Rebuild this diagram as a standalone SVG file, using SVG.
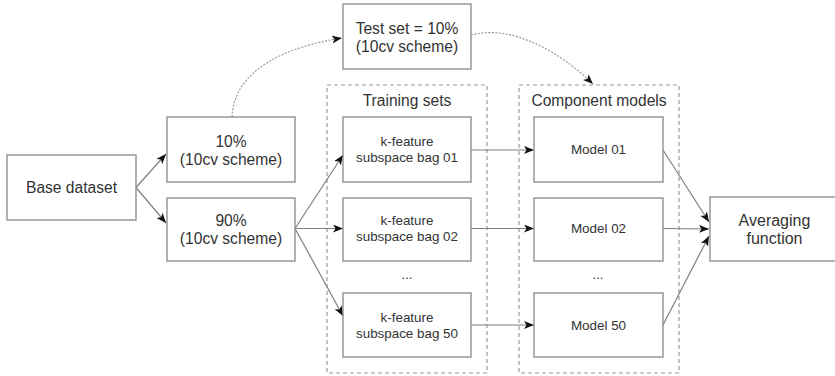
<svg xmlns="http://www.w3.org/2000/svg" width="835" height="376" viewBox="0 0 835 376">
  <defs>
    <marker id="arrow" markerUnits="userSpaceOnUse" markerWidth="11" markerHeight="9" refX="10" refY="4" orient="auto">
      <path d="M0,0 L10,4 L0,8 L2.5,4 z" fill="#111"/>
    </marker>
    <style>
      .box { fill: #fff; stroke: #888; stroke-width: 1.3; }
      .group { fill: none; stroke: #999; stroke-width: 1.2; stroke-dasharray: 4 3; }
      .link { fill: none; stroke: #808080; stroke-width: 1.2; marker-end: url(#arrow); }
      .dotted { fill: none; stroke: #999; stroke-width: 1.2; stroke-dasharray: 2 1.5; marker-end: url(#arrow); }
      text { font-family: "Liberation Sans", Arial, sans-serif; fill: #333; text-anchor: middle; }
      .big { font-size: 15.6px; }
      .small { font-size: 13.4px; }
      .avg { font-size: 16px; }
    </style>
  </defs>

  <rect width="835" height="376" fill="#fff"/>

  <!-- dashed container groups -->
  <g id="training-sets">
    <rect class="group" x="327" y="85" width="160" height="288"/>
    <text class="big" x="407" y="106">Training sets</text>
    <text class="small" x="407" y="279">...</text>
  </g>
  <g id="component-models">
    <rect class="group" x="519" y="85" width="160" height="288"/>
    <text class="big" x="599" y="106">Component models</text>
    <text class="small" x="598" y="279">...</text>
  </g>

  <!-- connectors -->
  <g id="connectors">
    <line class="link" x1="136" y1="187.5" x2="166" y2="154"/>
    <line class="link" x1="136" y1="187.5" x2="166" y2="223"/>
    <line class="link" x1="295" y1="228.5" x2="343" y2="155"/>
    <line class="link" x1="295" y1="228.5" x2="343" y2="228.5"/>
    <line class="link" x1="295" y1="228.5" x2="343" y2="316"/>
    <line class="link" x1="471" y1="150" x2="534" y2="150"/>
    <line class="link" x1="471" y1="228.5" x2="534" y2="228.5"/>
    <line class="link" x1="471" y1="325" x2="534" y2="325"/>
    <line class="link" x1="663" y1="150" x2="709" y2="222"/>
    <line class="link" x1="663" y1="228.5" x2="709" y2="229"/>
    <line class="link" x1="663" y1="325" x2="709" y2="236"/>
    <path class="dotted" d="M232,117 C234,68 290,46 342,38"/>
    <path class="dotted" d="M471,35 C512,24 560,52 593,84"/>
  </g>

  <!-- nodes -->
  <g id="base-dataset">
    <rect class="box" x="7" y="155" width="129" height="65"/>
    <text class="big" x="71.5" y="193">Base dataset</text>
  </g>
  <g id="split-10">
    <rect class="box" x="167" y="117" width="128" height="65"/>
    <text class="big" x="231" y="147"><tspan>10%</tspan><tspan x="231" dy="18">(10cv scheme)</tspan></text>
  </g>
  <g id="split-90">
    <rect class="box" x="167" y="198" width="128" height="63"/>
    <text class="big" x="231" y="226"><tspan>90%</tspan><tspan x="231" dy="18">(10cv scheme)</tspan></text>
  </g>
  <g id="test-set">
    <rect class="box" x="343" y="4" width="128" height="65"/>
    <text class="big" x="407" y="33.5"><tspan>Test set = 10%</tspan><tspan x="407" dy="18">(10cv scheme)</tspan></text>
  </g>
  <g id="bag-01">
    <rect class="box" x="343" y="117" width="128" height="65"/>
    <text class="small" x="407" y="146"><tspan>k-feature</tspan><tspan x="407" dy="16">subspace bag 01</tspan></text>
  </g>
  <g id="bag-02">
    <rect class="box" x="343" y="198" width="128" height="63"/>
    <text class="small" x="407" y="225"><tspan>k-feature</tspan><tspan x="407" dy="16">subspace bag 02</tspan></text>
  </g>
  <g id="bag-50">
    <rect class="box" x="343" y="293" width="128" height="64"/>
    <text class="small" x="407" y="321.5"><tspan>k-feature</tspan><tspan x="407" dy="16">subspace bag 50</tspan></text>
  </g>
  <g id="model-01">
    <rect class="box" x="534" y="117" width="129" height="65"/>
    <text class="small" x="598.5" y="154">Model 01</text>
  </g>
  <g id="model-02">
    <rect class="box" x="534" y="198" width="129" height="63"/>
    <text class="small" x="598.5" y="233">Model 02</text>
  </g>
  <g id="model-50">
    <rect class="box" x="534" y="293" width="129" height="64"/>
    <text class="small" x="598.5" y="329.5">Model 50</text>
  </g>
  <g id="averaging">
    <rect class="box" x="710" y="197" width="129" height="64"/>
    <text class="avg" x="774.5" y="226"><tspan>Averaging</tspan><tspan x="774.5" dy="17.5">function</tspan></text>
  </g>
</svg>
